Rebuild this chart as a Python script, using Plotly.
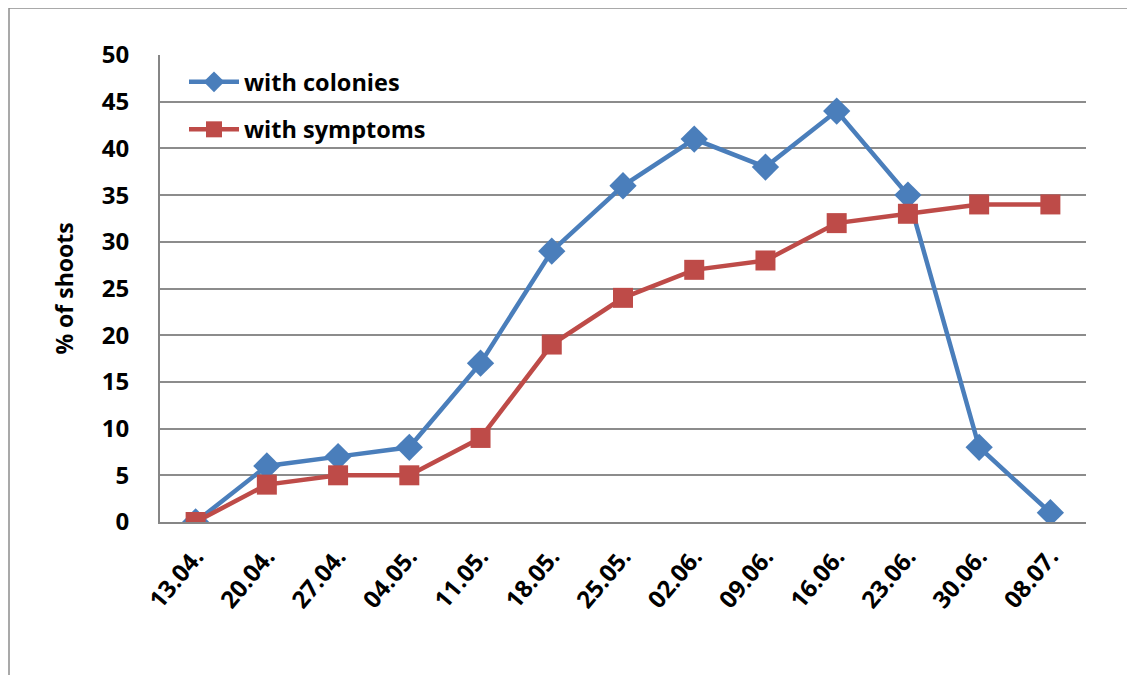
import plotly.graph_objects as go

dates = ["13.04.", "20.04.", "27.04.", "04.05.", "11.05.", "18.05.", "25.05.",
         "02.06.", "09.06.", "16.06.", "23.06.", "30.06.", "08.07."]
with_colonies = [0, 6, 7, 8, 17, 29, 36, 41, 38, 44, 35, 8, 1]
with_symptoms = [0, 4, 5, 5, 9, 19, 24, 27, 28, 32, 33, 34, 34]
y_ticks = [0, 5, 10, 15, 20, 25, 30, 35, 40, 45, 50]

FONT = "Open Sans"
fig = go.Figure()
fig.add_trace(go.Scatter(
    x=dates, y=with_colonies, name="with colonies", mode="lines+markers",
    line=dict(color="#4a7ebb", width=4.5),
    marker=dict(symbol="diamond", size=21, color="#4a7ebb"),
    legendgroup="a"))
fig.add_trace(go.Scatter(
    x=dates, y=with_symptoms, name="with symptoms", mode="lines+markers",
    line=dict(color="#be4b48", width=4.5),
    marker=dict(symbol="square", size=20, color="#be4b48"),
    legendgroup="b"))

OFF = 8  # page offset of the figure
W, H = 1135, 675
L, R, T, B = 160 - OFF, 1086 - OFF, 55 - OFF, 522 - OFF
pw, ph = R - L, B - T

def px(x):
    return (x - OFF - L) / pw

def py(y):
    return (B - (y - OFF)) / ph

def bold(size):
    return dict(family=FONT, size=size, weight="bold", color="black")

fig.update_layout(
    width=W, height=H,
    margin=dict(l=L, r=W - R, t=T, b=H - B),
    paper_bgcolor="white", plot_bgcolor="white",
    font=dict(family=FONT, color="black", size=19),
    showlegend=True,
    legend=dict(x=px(184), y=py(60), xanchor="left", yanchor="top",
                bgcolor="rgba(0,0,0,0)", font=bold(23.5),
                tracegroupgap=14, itemwidth=50),
    xaxis=dict(type="category", showgrid=False, showline=True, linecolor="#868686",
               linewidth=2, ticks="", tickangle=-50, tickfont=bold(24),
               ticklabelstandoff=9, range=[-0.5, len(dates) - 0.5]),
    yaxis=dict(range=[0, 50], tickvals=y_ticks, showgrid=True, gridcolor="#8c8c8c",
               gridwidth=1.5, showline=True, linecolor="#868686", linewidth=2,
               ticks="", tickfont=bold(24), zeroline=False, ticklabelstandoff=24,
               title=dict(text="% of shoots", font=bold(23), standoff=22)),
    shapes=[
        dict(type="line", xref="paper", yref="paper", x0=px(9), x1=px(1145),
             y0=py(8), y1=py(8), line=dict(color="#8c8c8c", width=1.5)),
        dict(type="line", xref="paper", yref="paper", x0=px(9), x1=px(9),
             y0=py(8), y1=py(690), line=dict(color="#8c8c8c", width=1.5)),
    ],
)
fig.write_html("out.html")
